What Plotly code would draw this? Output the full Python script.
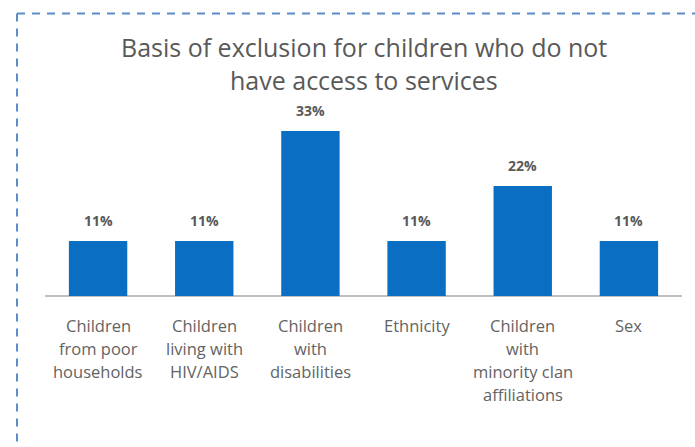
import plotly.graph_objects as go

categories = [
    "Children<br>from poor<br>households",
    "Children<br>living with<br>HIV/AIDS",
    "Children<br>with<br>disabilities",
    "Ethnicity",
    "Children<br>with<br>minority clan<br>affiliations",
    "Sex",
]
values = [11, 11, 33, 11, 22, 11]
value_labels = ["11%", "11%", "33%", "11%", "22%", "11%"]
title_lines = ["Basis of exclusion for children who do not", "have access to services"]

W, H = 695, 447
ML, MR, MT, MB = 45, 13, 116, 151
FONT = "'Open Sans', Lato, sans-serif"
TXT = "#595959"
BLUE = "#0A6FC2"

x_idx = list(range(len(categories)))

fig = go.Figure(go.Bar(
    x=x_idx, y=values, marker=dict(color=BLUE, line=dict(width=0)),
    hoverinfo="skip",
))

annotations = []
for i, (v, lab) in enumerate(zip(values, value_labels)):
    annotations.append(dict(x=i, y=v, xref="x", yref="y", text="<b>" + lab + "</b>",
                            showarrow=False, yanchor="middle", yshift=21,
                            font=dict(family=FONT, size=14, color=TXT)))
for i, cat in enumerate(categories):
    for j, line in enumerate(cat.split("<br>")):
        annotations.append(dict(x=i, y=0, xref="x", yref="y", text=line,
                                showarrow=False, yanchor="middle", yshift=-(29 + 23 * j),
                                font=dict(family=FONT, size=16.5, color="#636363")))
pw = W - ML - MR
ph = H - MT - MB
for j, line in enumerate(title_lines):
    annotations.append(dict(x=0.5, y=1 + (MT - 47 - 33 * j) / ph, xref="paper", yref="paper",
                            text=line, showarrow=False, yanchor="middle",
                            font=dict(family=FONT, size=25, color=TXT)))

# dashed border of the frame (left and top edges; the rest lies outside the picture)
bx0 = (17 - ML) / pw
by1 = 1 + (MT - 13.5) / ph
border = dict(color="#5B8DC8", width=2, dash="8px,7px")
shapes = [
    dict(type="line", xref="paper", yref="paper", x0=bx0, x1=1 + MR / pw,
         y0=by1, y1=by1, line=border, layer="below"),
    dict(type="line", xref="paper", yref="paper", x0=bx0, x1=bx0,
         y0=by1, y1=-MB / ph, line=border, layer="below"),
]

fig.update_layout(
    width=W, height=H,
    margin=dict(l=ML, r=MR, t=MT, b=MB, pad=0),
    paper_bgcolor="white", plot_bgcolor="white",
    bargap=0.45,
    showlegend=False,
    xaxis=dict(range=[-0.5, len(categories) - 0.5], showticklabels=False, ticks="",
               showgrid=False, zeroline=False, showline=False, fixedrange=True),
    yaxis=dict(range=[0, 36], showticklabels=False, showgrid=False, ticks="",
               zeroline=True, zerolinecolor="#BFBFBF", zerolinewidth=2,
               showline=False, fixedrange=True),
    annotations=annotations,
    shapes=shapes,
    font=dict(family=FONT, color=TXT),
)

fig.write_html("out.html", config=dict(displayModeBar=False))
